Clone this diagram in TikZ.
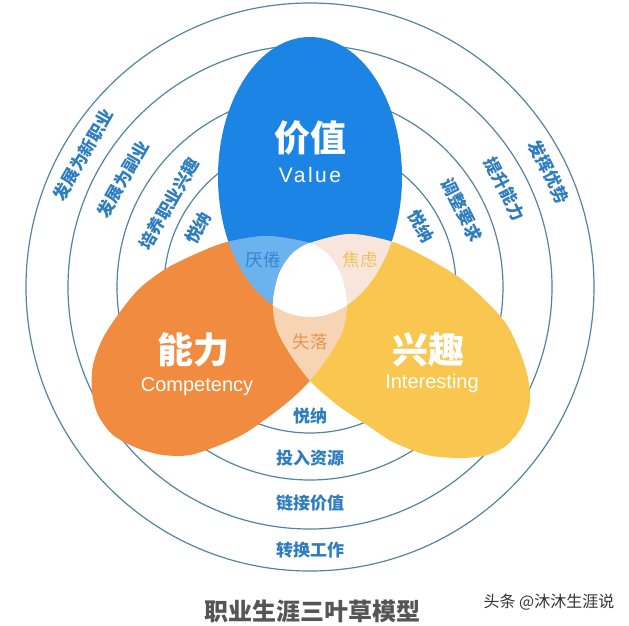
\documentclass[tikz,border=0pt]{standalone}
\usepackage{fontspec}
\newfontfamily\cjk{Noto Sans CJK SC}
\newfontfamily\lat{Liberation Sans}
\definecolor{ringc}{HTML}{5484A0}
\definecolor{lblc}{HTML}{2E7DBF}
\definecolor{blueP}{HTML}{1B84E4}
\definecolor{orangeP}{HTML}{F18B3F}
\definecolor{yellowP}{HTML}{F9C74F}
\definecolor{boI}{HTML}{6CB2EE}
\definecolor{byI}{HTML}{F8E6DC}
\definecolor{oyI}{HTML}{F6D4B4}
\definecolor{titlec}{HTML}{555555}
\definecolor{wmc}{HTML}{333333}
\definecolor{ibT}{HTML}{3484D6}
\definecolor{iyT}{HTML}{F0C25A}
\definecolor{ioT}{HTML}{E5964F}
\def\bluepath{(310,177) ellipse [x radius=92, y radius=140]}
\def\yellowpath{plot[smooth cycle] coordinates {(310,243) (350,234) (393,242) (427,258) (460,278) (487,302) (507,325) (520,352) (528,378) (530,402) (523,425) (507,445) (487,455) (460,458) (427,455) (393,442) (367,425) (340,407) (313,384) (292,357) (277,330) (273,303) (279,274) (292,254)}}
\def\orangepath{plot[smooth cycle] coordinates {(310,243) (267,236) (227,242) (200,252) (167,268) (140,288) (120,312) (103,338) (93,365) (92,392) (98,415) (113,435) (137,448) (163,455) (190,455) (220,445) (247,432) (283,406) (307,384) (328,357) (343,330) (347,303) (341,274) (328,254)}}
\tikzset{
  ringline/.style={draw=ringc, line width=1.2pt},
  lbl/.style={font=\cjk\bfseries\fontsize{17}{17}\selectfont, text=lblc, inner sep=0pt},
  bigzh/.style={font=\cjk\bfseries\fontsize{36}{36}\selectfont, text=white, inner sep=0pt},
  en/.style={font=\lat\fontsize{20}{20}\selectfont, text=white, inner sep=0pt},
  isec/.style={font=\cjk\fontsize{17.5}{17.5}\selectfont, inner sep=0pt}
}
\begin{document}
\begin{tikzpicture}[x=1pt,y=-1pt]
\useasboundingbox (0,0) rectangle (629,625);
\fill[white] (0,0) rectangle (629,625);
% rings
\draw[ringline] (310,287) circle [radius=284];
\draw[ringline] (310,287) circle [radius=242];
\draw[ringline] (310,287) circle [radius=193];
\draw[ringline] (310,287) circle [radius=146];
% petals
\fill[blueP] \bluepath;
\fill[orangeP] \orangepath;
\fill[yellowP] \yellowpath;
\begin{scope}\clip \bluepath; \fill[boI] \orangepath; \end{scope}
\begin{scope}\clip \bluepath; \fill[byI] \yellowpath; \end{scope}
\begin{scope}\clip \orangepath; \fill[oyI] \yellowpath; \end{scope}
\begin{scope}\clip \bluepath; \clip \orangepath; \fill[white] \yellowpath; \end{scope}
% petal titles
\node[bigzh] (vt) at (310,138) {价值};
\node[en, font=\lat\fontsize{21}{21}\selectfont\addfontfeature{LetterSpace=12}] (ve) at (310,175) {Value};
\node[bigzh] (ct) at (193,350) {能力};
\node[en] (ce) at (197,387) {Competency};
\node[bigzh] (it) at (428,350) {兴趣};
\node[en] (ie) at (432,383) {Interesting};
% intersection labels
\node[isec, text=ibT] (i1) at (263,260) {厌倦};
\node[isec, text=iyT] (i2) at (360,260) {焦虑};
\node[isec, text=ioT] (i3) at (310,342) {失落};
% ring labels left
\node[lbl, rotate=60] (l1) at (83,155) {发展为新职业};
\node[lbl, rotate=60] (l2) at (123,179) {发展为副业};
\node[lbl, rotate=60] (l3) at (169,204) {培养职业兴趣};
\node[lbl, rotate=60] (l4) at (198,228) {悦纳};
% ring labels right
\node[lbl, rotate=-63] (r1) at (549,172) {发挥优势};
\node[lbl, rotate=-63] (r2) at (505,189) {提升能力};
\node[lbl, rotate=-63] (r3) at (462,210) {调整要求};
\node[lbl, rotate=-61] (r4) at (421,226) {悦纳};
% ring labels bottom
\node[lbl] (b1) at (310,416) {悦纳};
\node[lbl] (b2) at (310,458) {投入资源};
\node[lbl] (b3) at (310,503) {链接价值};
\node[lbl] (b4) at (310,550) {转换工作};
% title and watermark
\node[font=\cjk\bfseries\fontsize{24}{24}\selectfont, text=titlec, inner sep=0pt] (title) at (312,611) {职业生涯三叶草模型};
\node[font=\cjk\fontsize{16}{16}\selectfont, text=wmc, inner sep=0pt] (wm) at (549,602) {头条 @沐沐生涯说};
\end{tikzpicture}
\end{document}
